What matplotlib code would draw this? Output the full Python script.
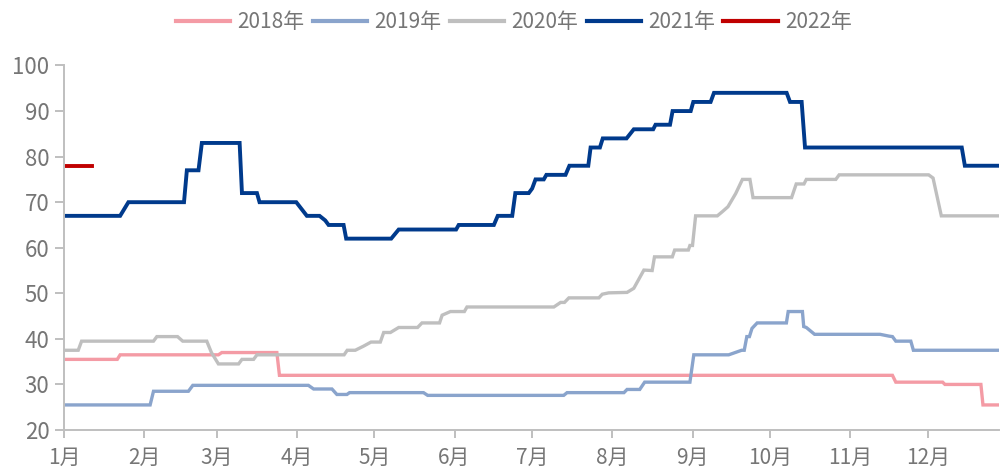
import matplotlib
matplotlib.use("Agg")
import matplotlib.pyplot as plt

plt.rcParams['font.family'] = ['Noto Sans CJK SC', 'DejaVu Sans']

# day of year (0 = 1 Jan) and price level, breakpoints of each step series
d2018 = [0, 20.6, 21.7, 59.7, 61, 82.3, 83.3, 320.3, 321.6, 339.7, 340.6, 354.5, 355.3, 361.5]
v2018 = [35.5, 35.5, 36.5, 36.5, 37, 37, 32, 32, 30.5, 30.5, 30, 30, 25.5, 25.5]

d2019 = [0, 33.3, 34.6, 48.1, 49.8, 94.5, 96.5, 103.6, 105.5, 109.4, 110.4, 139, 140.6, 193.2,
         194.5, 216.5, 217.7, 222.6, 224.5, 242, 243.5, 257, 262, 263, 264, 265, 266, 268,
         279.3, 280, 285.5, 286, 287, 290.2, 315.5, 319, 320.3, 321.6, 327.4, 328.4, 361.5]
v2019 = [25.5, 25.5, 28.5, 28.5, 29.8, 29.8, 29, 29, 27.8, 27.8, 28.2, 28.2, 27.6, 27.6,
         28.2, 28.2, 28.9, 28.9, 30.5, 30.5, 36.5, 36.5, 37.5, 37.5, 40.5, 40.5, 42.3, 43.5,
         43.5, 46, 46, 42.7, 42.5, 41, 41, 40.6, 40.5, 39.5, 39.5, 37.5, 37.5]

d2020 = [0, 5.5, 6.8, 34.6, 35.9, 43.9, 45.9, 55.2, 57, 59.7, 67.5, 68.8, 73.3, 74.6,
         108.3, 109.5, 112.6, 115.8, 118.7, 122.3, 123.6, 126.2, 129.4, 136.7, 138.4, 145.2,
         146.2, 149.4, 154.8, 155.8, 189.4, 192, 193.5, 195.2, 206.8, 208.1, 210.6, 217.7,
         220.3, 224.2, 227.4, 228.3, 235.2, 236.1, 241.4, 242, 243, 244.2, 252.6, 254.5,
         256.7, 259.7, 262.3, 265.2, 266.4, 281.3, 283.1, 286.1, 287, 298.4, 299.7, 334.3,
         336, 339.2, 361.5]
v2020 = [37.5, 37.5, 39.5, 39.5, 40.5, 40.5, 39.5, 39.5, 37, 34.5, 34.5, 35.5, 35.5, 36.5,
         36.5, 37.5, 37.5, 38.4, 39.3, 39.3, 41.4, 41.4, 42.5, 42.5, 43.5, 43.5,
         45.2, 46, 46, 47, 47, 48, 48, 49, 49, 49.8, 50.1, 50.2,
         51.1, 55.1, 55, 58, 58, 59.5, 59.5, 60.5, 60.5, 67, 67, 67.9,
         69, 71.9, 75, 75, 71, 71, 74, 74, 75, 75, 76, 76,
         75.3, 67, 67]

d2021 = [0, 21.7, 24.9, 46.4, 47.5, 52, 53.3, 67.9, 68.8, 74.6, 75.6, 89.8, 93.9, 98.8,
         101, 102.3, 108.1, 109.1, 126.5, 129.4, 151.6, 152.6, 166.2, 167.7, 173.3, 174.5,
         179.7, 181, 182.3, 185.5, 186.5, 193.9, 195.4, 202.7, 203.6, 207.2, 208.3, 217.5,
         220.3, 227.8, 228.7, 234.3, 235.3, 242.3, 243.3, 250, 251.3, 279.4, 280.7, 285.2,
         286.5, 347.1, 348.3, 361.5]
v2021 = [67, 67, 70, 70, 77, 77, 83, 83, 72, 72, 70, 70, 67, 67,
         66, 65, 65, 62, 62, 64, 64, 65, 65, 67, 67, 72,
         72, 73, 75, 75, 76, 76, 78, 78, 82, 82, 84, 84,
         86, 86, 87, 87, 90, 90, 92, 92, 94, 94, 92, 92,
         82, 82, 78, 78]

d2022 = [0, 11]
v2022 = [78, 78]

series = [
    ("2018年", d2018, v2018, "#F49BA5", 2.4),
    ("2019年", d2019, v2019, "#8AA4CC", 2.4),
    ("2020年", d2020, v2020, "#BFBFBF", 2.4),
    ("2021年", d2021, v2021, "#003A8C", 2.8),
    ("2022年", d2022, v2022, "#C00000", 2.8),
]

month_starts = [0, 31, 59, 90, 120, 151, 181, 212, 243, 273, 304, 334]
month_labels = [f"{m}月" for m in range(1, 13)]

fig = plt.figure(figsize=(10.06, 4.72), dpi=100)
ax = fig.add_axes([64 / 1006, 42 / 472, 935 / 1006, 364.5 / 472])

for name, d, v, c, lw in series:
    ax.plot(d, v, color=c, lw=lw, label=name, solid_joinstyle='miter')

ax.set_xlim(0, 361.5)
ax.set_ylim(20, 100)
ax.set_yticks(range(20, 101, 10))
ax.set_xticks(month_starts)
ax.set_xticklabels(month_labels)

for s in ['top', 'right']:
    ax.spines[s].set_visible(False)
for s in ['left', 'bottom']:
    ax.spines[s].set_color('#BFBFBF')
    ax.spines[s].set_linewidth(1.4)

ax.tick_params(axis='both', colors='#BFBFBF', labelcolor='#767676', width=1.4)
ax.tick_params(axis='y', length=6.5, pad=4, labelsize=16)
ax.tick_params(axis='x', length=6, pad=6, labelsize=15)

leg = fig.legend(loc='center', bbox_to_anchor=(514 / 1006, 1 - 22 / 472), ncol=5,
                 frameon=False, fontsize=15, handlelength=2.6, handletextpad=0.35,
                 columnspacing=0.4, labelcolor='#767676')
for h in leg.get_lines():
    h.set_linewidth(3)

fig.savefig("out.png", dpi=100)
